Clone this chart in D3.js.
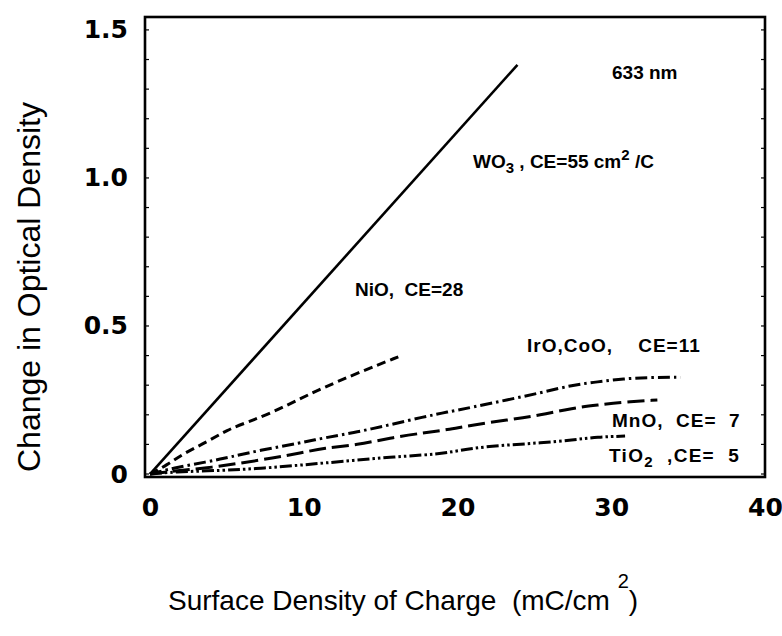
<!DOCTYPE html>
<html><head><meta charset="utf-8">
<script src="https://cdn.jsdelivr.net/npm/d3@7"></script>
<style>body{margin:0;background:#fff}svg{display:block}text{white-space:pre}</style>
</head><body><svg id="chart" width="782" height="636"></svg>
<script>
// ---- data ----
const xTicks = [0, 10, 20, 30, 40];
const xTickLabels = ["0", "10", "20", "30", "40"];
const yTicks = [0, 0.5, 1.0, 1.5];
const yTickLabels = ["0", "0.5", "1.0", "1.5"];

const wo3X = [0, 23.9];
const wo3Y = [0, 1.382];

const nioX = [0, 1.1, 2.2, 3.7, 5.0, 6.4, 8.0, 9.6, 11.2, 13.5, 16.3];
const nioY = [0, 0.030, 0.070, 0.108, 0.149, 0.176, 0.209, 0.250, 0.290, 0.341, 0.399];

const iroX = [0, 1.5, 3.7, 5.2, 7.2, 9.8, 11.3, 13.5, 15.6, 17.8, 19.3, 21.0, 23.2, 25.4, 27.5, 29.1, 30.8, 32.5, 34.5];
const iroY = [0, 0.020, 0.041, 0.057, 0.081, 0.105, 0.122, 0.142, 0.166, 0.193, 0.209, 0.226, 0.250, 0.274, 0.301, 0.311, 0.322, 0.326, 0.327];

const mnoX = [0, 1.5, 3.7, 5.9, 8.0, 9.8, 11.3, 13.5, 15.6, 17.8, 19.3, 21.0, 23.2, 25.4, 27.5, 29.1, 30.8, 33.0];
const mnoY = [0, 0.010, 0.020, 0.037, 0.054, 0.071, 0.088, 0.098, 0.122, 0.139, 0.149, 0.166, 0.182, 0.199, 0.223, 0.233, 0.243, 0.250];

const tioX = [0, 1.5, 4.7, 7.2, 9.8, 11.3, 13.5, 15.6, 17.8, 19.3, 21.0, 23.2, 25.4, 27.5, 29.1, 30.9];
const tioY = [0, 0.007, 0.012, 0.019, 0.030, 0.037, 0.047, 0.057, 0.064, 0.071, 0.088, 0.098, 0.105, 0.115, 0.125, 0.128];

// ---- layout ----
const FONT = "'Liberation Sans', Arial, Helvetica, sans-serif";
const TICKFONT = "'DejaVu Sans', 'Liberation Sans', sans-serif";
const svg = d3.select("#chart");
const frame = {left: 145, right: 765, top: 17, bottom: 477};
const x = d3.scaleLinear().domain([-0.325, 40]).range([frame.left, frame.right]);
const y = d3.scaleLinear().domain([-0.0101, 1.5436]).range([frame.bottom, frame.top]);

const toPts = (xs, ys) => xs.map((v, i) => [v, ys[i]]);
const series = [
  {pts: toPts(wo3X, wo3Y), dash: null, w: 2.6, curve: d3.curveLinear},
  {pts: toPts(nioX, nioY), dash: "9,5", w: 3, curve: d3.curveBasis},
  {pts: toPts(iroX, iroY), dash: "12,4,2.5,4", w: 3, curve: d3.curveBasis},
  {pts: toPts(mnoX, mnoY), dash: "17,6", w: 3, curve: d3.curveBasis},
  {pts: toPts(tioX, tioY), dash: "12,3,2.5,3,2.5,3", w: 3, curve: d3.curveBasis}
];

// frame
svg.append("rect")
  .attr("x", frame.left).attr("y", frame.top)
  .attr("width", frame.right - frame.left).attr("height", frame.bottom - frame.top)
  .attr("fill", "none").attr("stroke", "#000").attr("stroke-width", 2.6);

// minor inward ticks
const g = svg.append("g").attr("stroke", "#000").attr("stroke-width", 1.2);
d3.range(0, 1.51, 0.1).forEach(v => {
  g.append("line").attr("x1", frame.left).attr("x2", frame.left + 4).attr("y1", y(v)).attr("y2", y(v));
  g.append("line").attr("x1", frame.right).attr("x2", frame.right - 4).attr("y1", y(v)).attr("y2", y(v));
});

// axes (labels only)
const yAxis = d3.axisLeft(y).tickValues(yTicks).tickSize(0).tickPadding(17)
  .tickFormat((d, i) => yTickLabels[i]);
const yg = svg.append("g").attr("transform", `translate(${frame.left},0)`).call(yAxis);
yg.select(".domain").remove();
yg.selectAll("text").attr("font-family", TICKFONT)
  .attr("font-weight", "bold").attr("font-size", 25).attr("fill", "#000");

const xAxis = d3.axisBottom(x).tickValues(xTicks).tickSize(0).tickPadding(21)
  .tickFormat((d, i) => xTickLabels[i]);
const xg = svg.append("g").attr("transform", `translate(0,${frame.bottom})`).call(xAxis);
xg.select(".domain").remove();
xg.selectAll("text").attr("font-family", TICKFONT)
  .attr("font-weight", "bold").attr("font-size", 25).attr("fill", "#000");

// lines
const line = d3.line().x(d => x(d[0])).y(d => y(d[1]));
series.forEach(s => {
  svg.append("path").datum(s.pts)
    .attr("d", line.curve(s.curve))
    .attr("fill", "none").attr("stroke", "#000")
    .attr("stroke-width", s.w)
    .attr("stroke-dasharray", s.dash)
    .attr("stroke-linecap", "butt");
});

// annotations
const ann = svg.append("g").attr("font-family", FONT)
  .attr("font-weight", "bold").attr("font-size", 19).attr("fill", "#000");
ann.append("text").attr("x", 612).attr("y", 79).text("633 nm");
const w = ann.append("text").attr("x", 473).attr("y", 168);
w.append("tspan").text("WO");
w.append("tspan").attr("dy", 5).attr("font-size", 15).text("3");
w.append("tspan").attr("dy", -5).text(" , CE=55 cm");
w.append("tspan").attr("dy", -8).attr("font-size", 15).text("2");
w.append("tspan").attr("dy", 8).text(" /C");
ann.append("text").attr("x", 355).attr("y", 296).text("NiO,  CE=28");
ann.append("text").attr("x", 527).attr("y", 352).attr("letter-spacing", 1).text("IrO,CoO,    CE=11");
ann.append("text").attr("x", 612).attr("y", 427).attr("letter-spacing", 1).text("MnO,  CE=  7");
const t = ann.append("text").attr("x", 609).attr("y", 462).attr("letter-spacing", 1.3);
t.append("tspan").text("TiO");
t.append("tspan").attr("dy", 5).attr("font-size", 15).text("2");
t.append("tspan").attr("dy", -5).text("  ,CE=  5");

// axis titles
svg.append("text")
  .attr("transform", "translate(40,287) rotate(-90)")
  .attr("text-anchor", "middle")
  .attr("font-family", FONT)
  .attr("font-size", 32).attr("fill", "#000")
  .text("Change in Optical Density");
const xt = svg.append("text")
  .attr("x", 168).attr("y", 610)
  .attr("font-family", FONT)
  .attr("font-size", 28).attr("fill", "#000");
xt.append("tspan").text("Surface Density of Charge  (mC/cm ");
xt.append("tspan").attr("dy", -22).attr("font-size", 20).text("2");
xt.append("tspan").attr("dy", 22).text(")");
</script>
</body></html>
